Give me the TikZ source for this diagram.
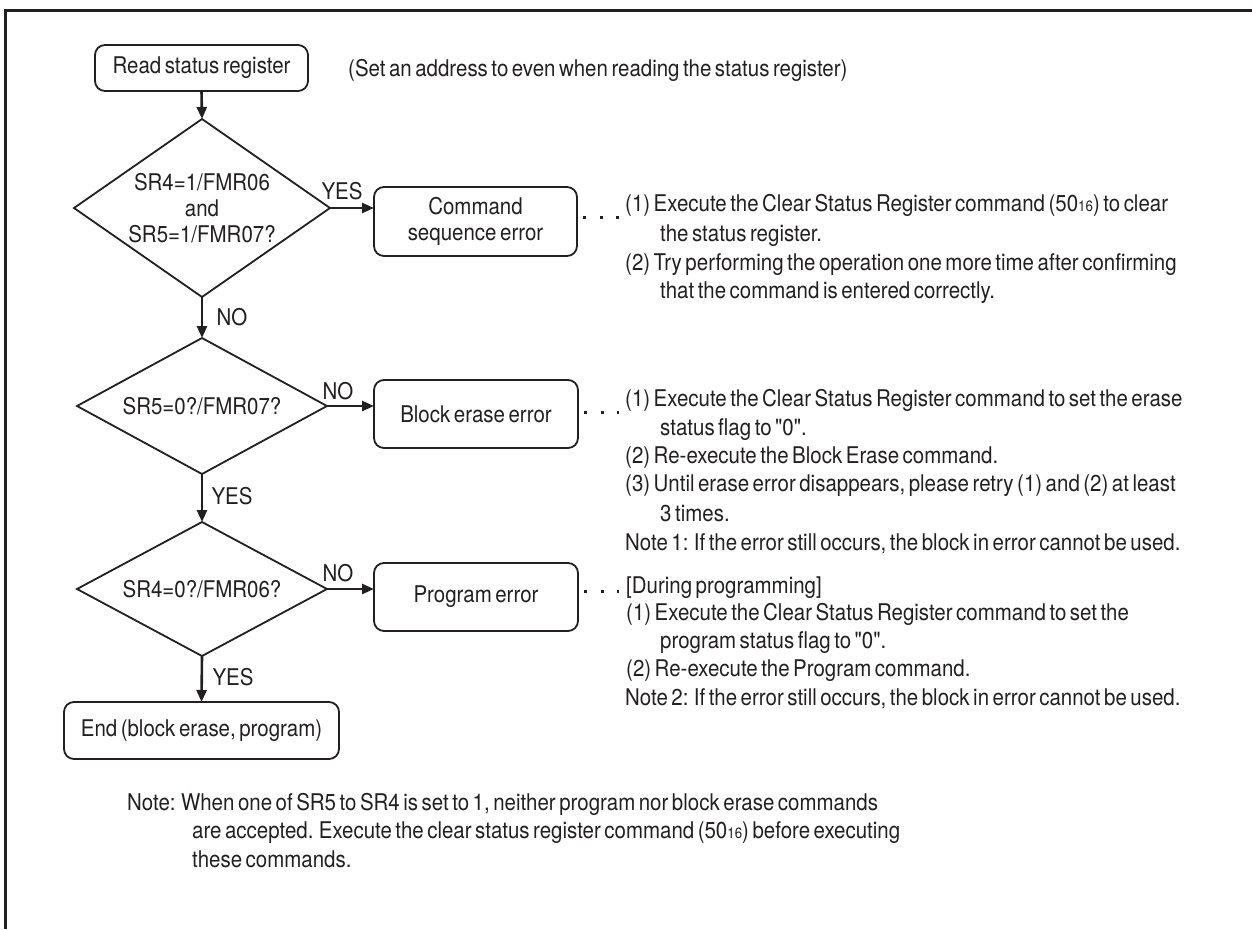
\documentclass[tikz,border=0pt]{standalone}
\usepackage{fontspec}
\setmainfont[FakeStretch=0.89,WordSpace=0.62,Ligatures=TeXOff]{TeX Gyre Heros}
\usetikzlibrary{shapes.geometric,arrows.meta}
\definecolor{ink}{HTML}{231F20}
\newcommand{\fs}{\fontsize{23}{26}\selectfont}
\newcommand{\hexsub}{{\fontsize{15}{15}\selectfont 16}}
\begin{document}
\begin{tikzpicture}[x=1pt,y=-1pt,
  every node/.style={text=ink},
  proc/.style={draw=ink, line width=1.8pt, rounded corners=10pt, inner sep=0pt, outer sep=0pt, font=\fs, align=center},
  dec/.style={draw=ink, diamond, line width=1.8pt, inner sep=0pt, outer sep=0pt, font=\fs, align=center},
  arr/.style={draw=ink, line width=2.6pt, -{Triangle[length=12pt,width=10pt]}},
  lbl/.style={font=\fs, inner sep=0pt},
  txt/.style={anchor=base west, inner sep=0pt, font=\fs},
  dots/.style={draw=ink, line width=3pt, dash pattern=on 3pt off 13.5pt}
]
\useasboundingbox (0,0) rectangle (1252,929);
% frame
\draw[ink, line width=3pt] (1252,10) -- (5,10) -- (5,929);

% flowchart nodes
\node[proc, minimum width=213pt, minimum height=46pt] (start) at (201.5,68) {Read status register};
\node[dec, aspect=1.44, minimum width=256pt, minimum height=178pt] (d1) at (202,208) {SR4=1/FMR06\\and\\SR5=1/FMR07?};
\node[proc, minimum width=203pt, minimum height=69pt] (cse) at (475.5,221.5) {Command\\sequence error};
\node[dec, aspect=1.84, minimum width=250pt, minimum height=136pt] (d2) at (202,406) {SR5=0?/FMR07?};
\node[proc, minimum width=204pt, minimum height=68pt] (be) at (476,414) {Block erase error};
\node[dec, aspect=1.86, minimum width=250pt, minimum height=134pt] (d3) at (202,589) {SR4=0?/FMR06?};
\node[proc, minimum width=204pt, minimum height=68pt] (pe) at (476,597) {Program error};
\node[proc, minimum width=275pt, minimum height=57pt] (end) at (201.5,730.5) {End (block erase, program)};

% connectors
\draw[arr] (start.south) -- (d1.north);
\draw[arr] (d1.east) -- (d1.east -| cse.west);
\draw[arr] (d1.south) -- (d2.north);
\draw[arr] (d2.east) -- (d2.east -| be.west);
\draw[arr] (d2.south) -- (d3.north);
\draw[arr] (d3.east) -- (d3.east -| pe.west);
\draw[arr] (d3.south) -- (end.north);

% labels
\node[lbl] (yes1) at (342,191) {YES};
\node[lbl] (no1) at (232,317) {NO};
\node[lbl] (no2) at (338,391) {NO};
\node[lbl] (yes2) at (232,496) {YES};
\node[lbl] (no3) at (338,573) {NO};
\node[lbl] (yes3) at (233,677) {YES};

% dotted leaders
\coordinate (n1) at (619,217);
\coordinate (n2) at (619,412);
\coordinate (n3) at (619,591);
\draw[dots] ([xshift=6pt]cse.east |- n1) -- (n1);
\draw[dots] ([xshift=6pt]be.east |- n2) -- (n2);
\draw[dots] ([xshift=6pt]pe.east |- n3) -- (n3);

% top note
\node[txt] (t0) at (348,76) {(Set an address to even when reading the status register)};

% command sequence error text
\node[txt] (a1) at (625,211) {(1) Execute the Clear Status Register command (50\hexsub) to clear};
\node[txt] (a2) at (660,241) {the status register.};
\node[txt] (a3) at (625,270) {(2) Try performing the operation one more time after confirming};
\node[txt] (a4) at (660,298) {that the command is entered correctly.};

% block erase error text
\node[txt] (b1) at (625,406) {(1) Execute the Clear Status Register command to set the erase};
\node[txt] (b2) at (660,435) {status flag to "0".};
\node[txt] (b3) at (625,463) {(2) Re-execute the Block Erase command.};
\node[txt] (b4) at (625,491) {(3) Until erase error disappears, please retry (1) and (2) at least};
\node[txt] (b5) at (660,521) {3 times.};
\node[txt] (b6) at (625,550) {Note 1: If the error still occurs, the block in error cannot be used.};

% program error text
\node[txt] (p1) at (626,593) {[During programming]};
\node[txt] (p2) at (626,620) {(1) Execute the Clear Status Register command to set the};
\node[txt] (p3) at (660,648) {program status flag to "0".};
\node[txt] (p4) at (626,676) {(2) Re-execute the Program command.};
\node[txt] (p5) at (625,705) {Note 2: If the error still occurs, the block in error cannot be used.};

% bottom note
\node[txt] (m1) at (127,810) {Note: When one of SR5 to SR4 is set to 1, neither program nor block erase commands};
\node[txt] (m2) at (192,838) {are accepted. Execute the clear status register command (50\hexsub) before executing};
\node[txt] (m3) at (192,867) {these commands.};
\end{tikzpicture}
\end{document}
